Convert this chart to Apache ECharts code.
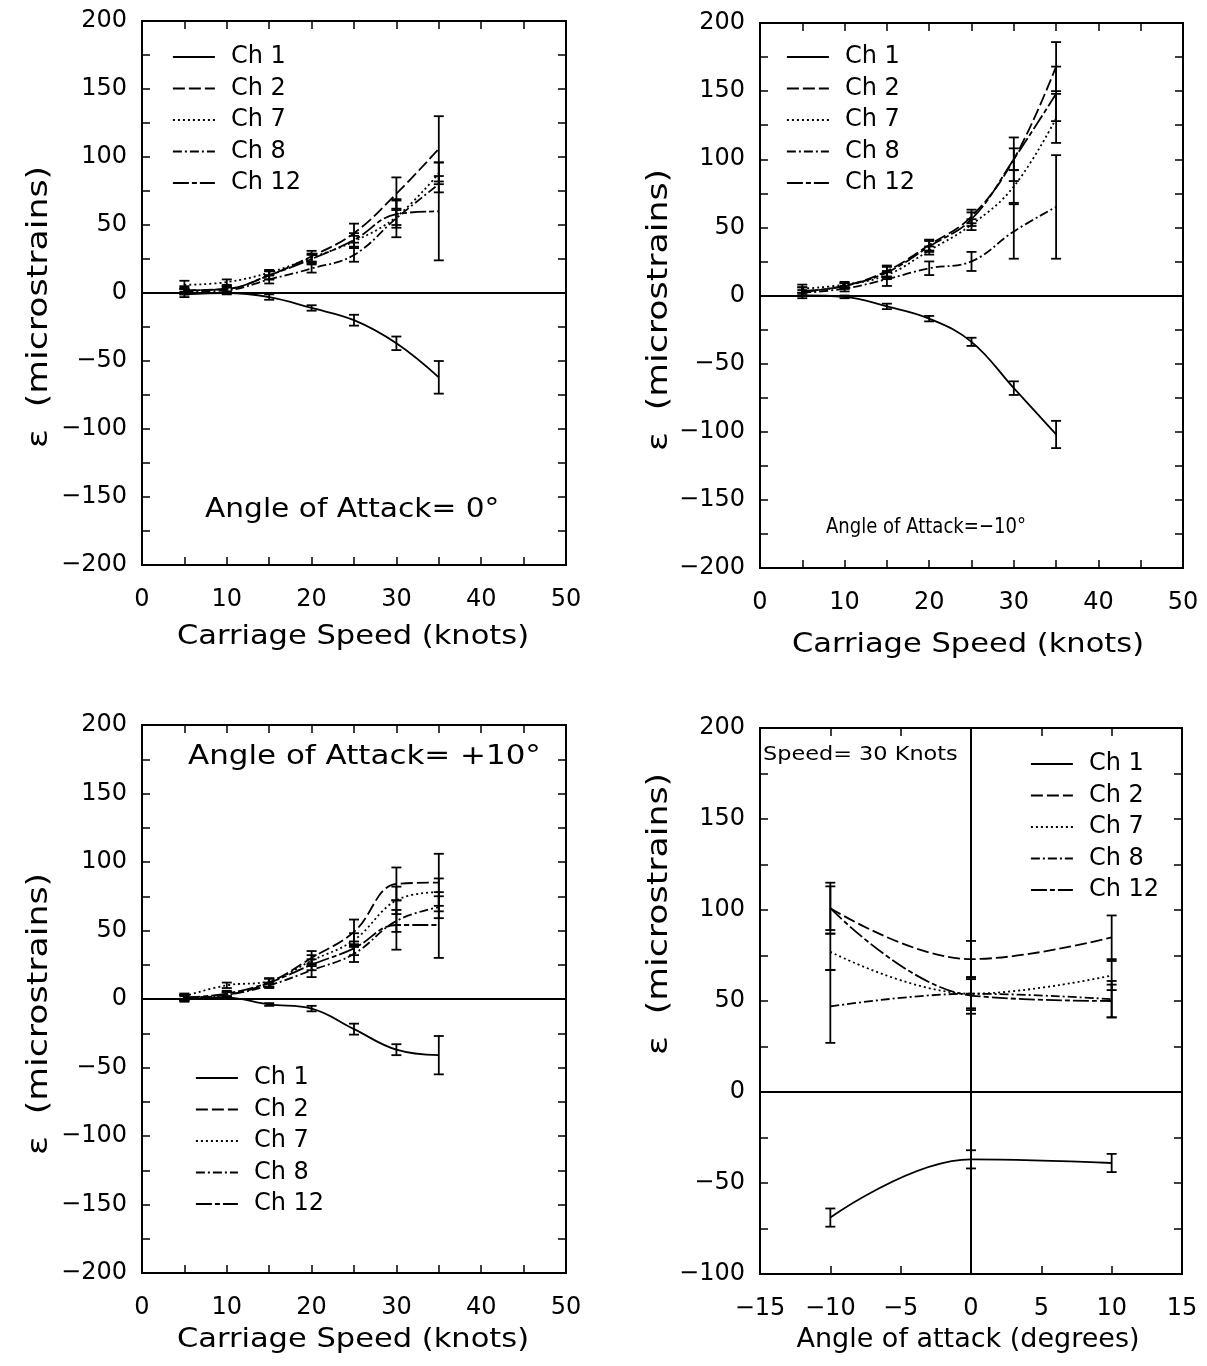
<!DOCTYPE html>
<html>
<head>
<meta charset="utf-8">
<script src="https://cdn.jsdelivr.net/npm/echarts@6/dist/echarts.min.js"></script>
<style>
  html, body { margin: 0; padding: 0; background: #fff; }
  #chart { width: 1207px; height: 1366px; }
</style>
</head>
<body>
<div id="chart"></div>
<script>
// strain gauge channels
const channels = ['Ch 1', 'Ch 2', 'Ch 7', 'Ch 8', 'Ch 12'];
const speeds = [5, 10, 15, 20, 25, 30, 35];
const angles = [-10, 0, 10];

// angle of attack = 0 deg (rows follow channels)
const aoa0Values = [
  [-1, 0, -3, -11, -20, -37, -62],
  [2, 3, 13, 27, 44, 73, 106],
  [6, 8, 15, 26, 38, 56, 88],
  [1, 2, 10, 18, 28, 55, 80],
  [2, 3, 13, 25, 39, 58, 60]
];
const aoa0Errors = [
  [2, 1, 2, 2, 4, 5, 12],
  [3, 2, 3, 4, 7, 12, 24],
  [3, 2, 2, 3, 4, 6, 8],
  [2, 2, 3, 3, 5, 14, 6],
  [2, 2, 3, 3, 5, 10, 36]
];

// angle of attack = -10 deg
const aoaM10Values = [
  [0, -1, -8, -17, -34, -68, -102],
  [3, 7, 18, 37, 58, 100, 168],
  [5, 8, 15, 33, 52, 80, 130],
  [2, 5, 12, 20, 25, 47, 65],
  [3, 7, 17, 36, 56, 100, 148]
];
const aoaM10Errors = [
  [2, 1, 2, 2, 3, 5, 10],
  [3, 2, 4, 4, 5, 16, 18],
  [3, 2, 3, 3, 4, 12, 18],
  [2, 2, 5, 5, 7, 20, 38],
  [3, 2, 4, 4, 5, 8, 20]
];

// angle of attack = +10 deg
const aoaP10Values = [
  [0, 1, -4, -7, -22, -37, -41],
  [1, 3, 12, 30, 49, 84, 85],
  [2, 10, 13, 28, 43, 72, 78],
  [1, 3, 10, 21, 33, 57, 67],
  [1, 4, 12, 25, 37, 54, 54]
];
const aoaP10Errors = [
  [2, 1, 1, 2, 4, 4, 14],
  [2, 2, 3, 5, 9, 12, 21],
  [2, 2, 2, 4, 5, 10, 10],
  [2, 2, 2, 5, 6, 8, 8],
  [2, 2, 3, 4, 5, 18, 24]
];

// speed = 30 knots, vs angle of attack
const speed30Values = [
  [-69, -37, -39],
  [101, 73, 85],
  [77, 54, 64],
  [47, 54, 51],
  [101, 53, 50]
];
const speed30Errors = [
  [5, 5, 5],
  [14, 10, 12],
  [10, 8, 8],
  [20, 9, 10],
  [12, 10, 9]
];

const FONT = 'DejaVu Sans';
const dashes = ['solid', [12, 4], [2, 3], [9, 3, 2, 3], [16, 3, 5, 3]];

const panels = [
  { grid: { left: 142, top: 21, width: 424, height: 544 }, xs: speeds, values: aoa0Values, errors: aoa0Errors,
    x: [0, 50, 5, 10], y: [-200, 200], legend: { left: 172, top: 45 } },
  { grid: { left: 760, top: 23, width: 423, height: 545 }, xs: speeds, values: aoaM10Values, errors: aoaM10Errors,
    x: [0, 50, 5, 10], y: [-200, 200], legend: { left: 786, top: 45 } },
  { grid: { left: 142, top: 725, width: 424, height: 548 }, xs: speeds, values: aoaP10Values, errors: aoaP10Errors,
    x: [0, 50, 5, 10], y: [-200, 200], legend: { left: 195, top: 1066 } },
  { grid: { left: 760, top: 728, width: 422, height: 546 }, xs: angles, values: speed30Values, errors: speed30Errors,
    x: [-15, 15, 5, 5], y: [-100, 200], legend: { left: 1030, top: 752 }, vline: true }
];

const fmt = (v) => String(v).replace('-', '\u2212');
const black = { color: '#000', width: 2 };

function xAxes(g, p) {
  const [min, max, step, labelStep] = p.x;
  const base = {
    gridIndex: g, type: 'value', min, max, interval: step,
    axisLine: { show: true, onZero: false, lineStyle: black },
    axisTick: { show: true, inside: true, length: 8, lineStyle: { color: '#000', width: 1.5 } },
    splitLine: { show: false }
  };
  return [
    Object.assign({}, base, {
      position: 'bottom',
      axisLabel: { margin: 23, fontSize: 24, fontFamily: FONT, color: '#000',
        formatter: (v) => (v % labelStep === 0 ? fmt(v) : '') }
    }),
    Object.assign({}, base, { position: 'top', axisLabel: { show: false } })
  ];
}

function yAxes(g, p) {
  const [min, max] = p.y;
  const base = {
    gridIndex: g, type: 'value', min, max, interval: 25,
    axisLine: { show: true, onZero: false, lineStyle: black },
    axisTick: { show: true, inside: true, length: 8, lineStyle: { color: '#000', width: 1.5 } },
    splitLine: { show: false }
  };
  return [
    Object.assign({}, base, {
      position: 'left',
      axisLabel: { margin: 15, fontSize: 24, fontFamily: FONT, color: '#000',
        formatter: (v) => (v % 50 === 0 ? fmt(v) : '') }
    }),
    Object.assign({}, base, { position: 'right', axisLabel: { show: false } })
  ];
}

// error bar with caps
function errorSeries(g, xs, vals, errs) {
  return {
    type: 'custom',
    xAxisIndex: 2 * g,
    yAxisIndex: 2 * g,
    silent: true,
    z: 3,
    encode: { x: 0, y: [1, 2] },
    data: xs.map((x, i) => [x, vals[i] - errs[i], vals[i] + errs[i]]),
    renderItem(params, api) {
      const lo = api.coord([api.value(0), api.value(1)]);
      const hi = api.coord([api.value(0), api.value(2)]);
      const w = 5;
      const st = { stroke: '#000', lineWidth: 1.8 };
      return {
        type: 'group',
        children: [
          { type: 'line', shape: { x1: lo[0], y1: lo[1], x2: hi[0], y2: hi[1] }, style: st },
          { type: 'line', shape: { x1: lo[0] - w, y1: lo[1], x2: lo[0] + w, y2: lo[1] }, style: st },
          { type: 'line', shape: { x1: hi[0] - w, y1: hi[1], x2: hi[0] + w, y2: hi[1] }, style: st }
        ]
      };
    }
  };
}

const grids = [], xAxis = [], yAxis = [], series = [], legends = [];

panels.forEach((p, g) => {
  grids.push(Object.assign({ show: true, borderColor: '#000', borderWidth: 2, containLabel: false }, p.grid));
  xAxis.push(...xAxes(g, p));
  yAxis.push(...yAxes(g, p));

  channels.forEach((ch, c) => {
    series.push(errorSeries(g, p.xs, p.values[c], p.errors[c]));
    const s = {
      name: ch,
      type: 'line',
      xAxisIndex: 2 * g,
      yAxisIndex: 2 * g,
      smooth: 0.4,
      symbol: 'none',
      showSymbol: false,
      silent: true,
      z: 4,
      itemStyle: { color: '#000' },
      lineStyle: { color: '#000', width: 1.8, type: dashes[c] },
      data: p.xs.map((x, i) => [x, p.values[c][i]])
    };
    if (c === 0) {
      const lines = [{ yAxis: 0 }];
      if (p.vline) lines.push({ xAxis: 0 });
      s.markLine = {
        silent: true, symbol: 'none', label: { show: false },
        lineStyle: { color: '#000', type: 'solid', width: 2 },
        data: lines
      };
    }
    series.push(s);
  });

  legends.push({
    data: channels,
    orient: 'vertical',
    left: p.legend.left,
    top: p.legend.top,
    padding: 0,
    itemWidth: 42,
    itemHeight: 14,
    itemGap: 7.5,
    selectedMode: false,
    itemStyle: { opacity: 0 },
    lineStyle: { width: 1.8 },
    textStyle: { fontSize: 24, lineHeight: 24, fontFamily: FONT, color: '#000', padding: [0, 0, 0, 11] }
  });
});

function label(x, y, text, size, sx, rotate) {
  return {
    type: 'text', x, y, rotation: rotate ? Math.PI / 2 : 0, scaleX: sx, silent: true,
    style: { text, fontSize: size, fontFamily: FONT, fill: '#000', align: rotate ? 'center' : 'left', verticalAlign: 'middle' }
  };
}
function centred(x, y, text, size, sx) {
  const t = label(x, y, text, size, sx, false);
  t.style.align = 'center';
  return t;
}

const yName = '\u03b5  (microstrains)';
const graphic = [
  label(40, 307, yName, 28, 1.24, true),
  label(660, 310, yName, 28, 1.24, true),
  label(40, 1014, yName, 28, 1.24, true),
  label(660, 914, yName, 28, 1.24, true),
  centred(353, 637, 'Carriage Speed (knots)', 27, 1.13),
  centred(968, 645, 'Carriage Speed (knots)', 27, 1.13),
  centred(353, 1340, 'Carriage Speed (knots)', 27, 1.13),
  centred(968, 1340, 'Angle of attack (degrees)', 27, 1.0),
  label(205, 510, 'Angle of Attack= 0\u00b0', 26, 1.14),
  label(826, 527, 'Angle of Attack=\u221210\u00b0', 22, 0.82),
  label(188, 757, 'Angle of Attack= +10\u00b0', 26, 1.19),
  label(763, 755, 'Speed= 30 Knots', 20, 1.12)
];

const chart = echarts.init(document.getElementById('chart'));
chart.setOption({
  animation: false,
  backgroundColor: '#fff',
  grid: grids,
  xAxis,
  yAxis,
  legend: legends,
  graphic,
  series
});
</script>
</body>
</html>
